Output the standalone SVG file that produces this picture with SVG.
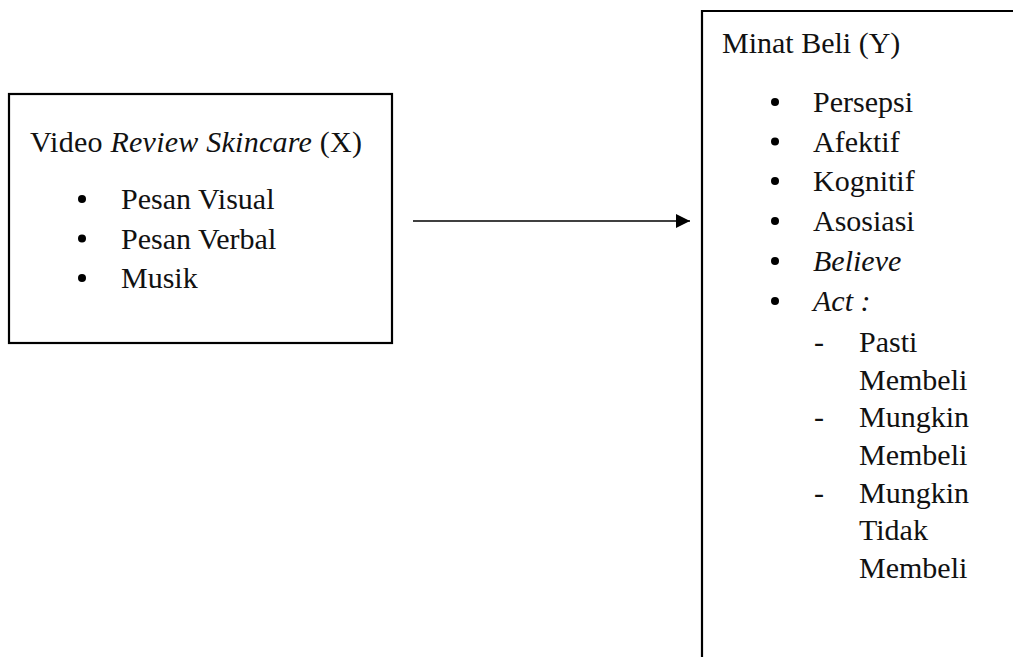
<svg xmlns="http://www.w3.org/2000/svg" width="1013" height="657" viewBox="0 0 1013 657">
<defs>
<style>
text{font-family:"Liberation Serif","Times New Roman",serif;font-size:30px;fill:#111}
.it{font-style:italic}
.box{fill:none;stroke:#000;stroke-width:2.2}
.dot{fill:#000}
.conn{stroke:#000;stroke-width:1.6;fill:none}
</style>
<marker id="ah" viewBox="0 0 14 14" refX="14" refY="7" markerWidth="14" markerHeight="14" markerUnits="userSpaceOnUse" orient="auto">
<path d="M0,0 L14,7 L0,14 Z" fill="#000"/>
</marker>
</defs>
<rect width="1013" height="657" fill="#fff"/>
<g id="node-x">
<rect class="box" x="9" y="94" width="383" height="249"/>
<text x="30" y="152" textLength="332" lengthAdjust="spacing">Video <tspan class="it">Review Skincare</tspan> (X)</text>
<circle class="dot" cx="82" cy="199" r="4"/>
<text x="121" y="209">Pesan Visual</text>
<circle class="dot" cx="82" cy="238.5" r="4"/>
<text x="121" y="248.5">Pesan Verbal</text>
<circle class="dot" cx="82" cy="278" r="4"/>
<text x="121" y="288">Musik</text>
</g>
<g id="node-y">
<path class="box" d="M702,657 V11 H1013"/>
<text x="722" y="53">Minat Beli (Y)</text>
<circle class="dot" cx="775" cy="102" r="4"/>
<text x="813" y="112">Persepsi</text>
<circle class="dot" cx="775" cy="141.5" r="4"/>
<text x="813" y="151.5">Afektif</text>
<circle class="dot" cx="775" cy="181" r="4"/>
<text x="813" y="191">Kognitif</text>
<circle class="dot" cx="775" cy="221" r="4"/>
<text x="813" y="231">Asosiasi</text>
<circle class="dot" cx="775" cy="261" r="4"/>
<text class="it" x="813" y="271">Believe</text>
<circle class="dot" cx="775" cy="301" r="4"/>
<text class="it" x="813" y="311">Act :</text>
<text x="814" y="352">-</text>
<text x="859" y="352">Pasti</text>
<text x="859" y="389.5">Membeli</text>
<text x="814" y="427">-</text>
<text x="859" y="427">Mungkin</text>
<text x="859" y="465">Membeli</text>
<text x="814" y="502.5">-</text>
<text x="859" y="502.5">Mungkin</text>
<text x="859" y="540">Tidak</text>
<text x="859" y="578">Membeli</text>
</g>
<g id="connectors">
<line class="conn" x1="413" y1="221" x2="690" y2="221" marker-end="url(#ah)"/>
</g>
</svg>
